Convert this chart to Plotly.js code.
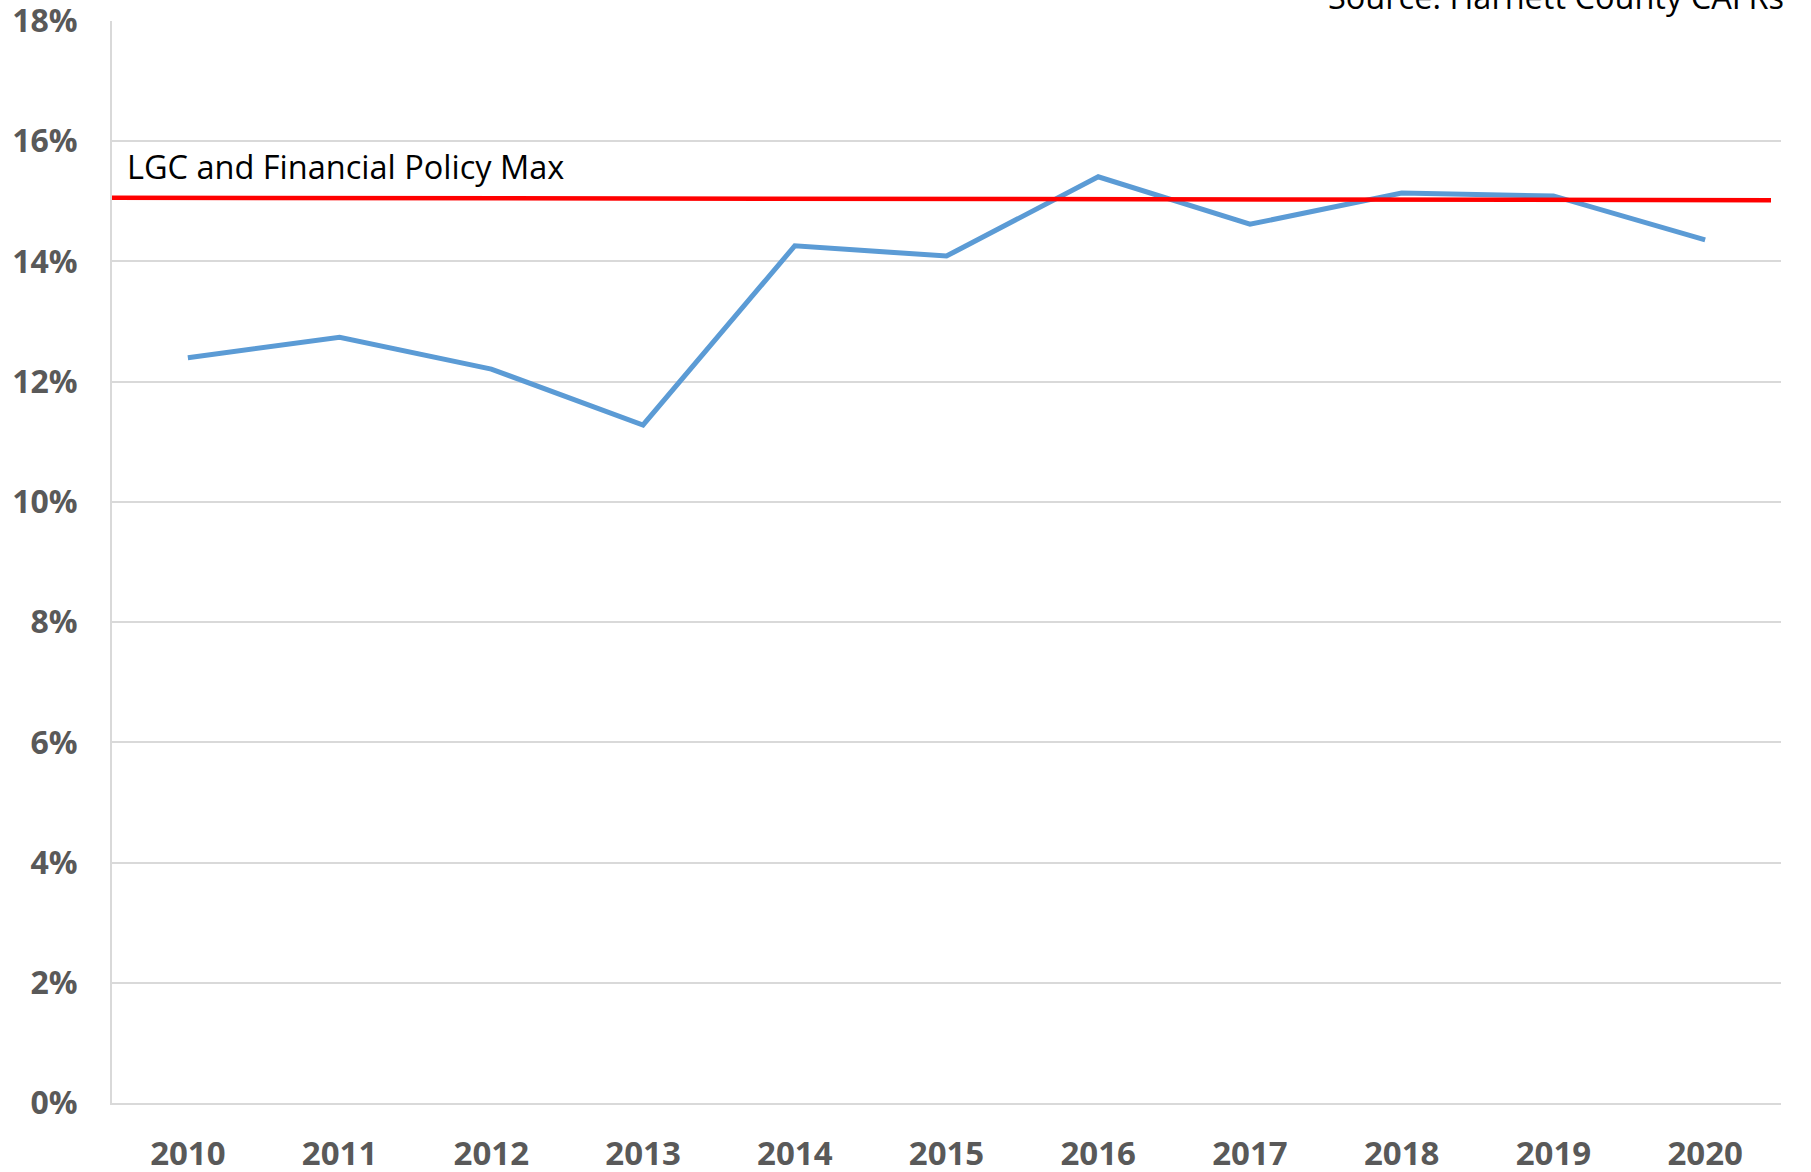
<!DOCTYPE html>
<html>
<head>
<meta charset="utf-8">
<script src="https://cdn.plot.ly/plotly-3.0.1.min.js"></script>
<style>html,body{margin:0;padding:0;background:#fff;}#chart{width:1811px;height:1172px;}</style>
</head>
<body>
<div id="chart"></div>
<script>
// Data
var years = ['2010','2011','2012','2013','2014','2015','2016','2017','2018','2019','2020'];
var debtRatio = [12.40, 12.74, 12.21, 11.28, 14.26, 14.09, 15.41, 14.62, 15.14, 15.09, 14.36];
var policyX = [0, 0.994];
var policyY = [15.06, 15.02];
var policyLabel = 'LGC and Financial Policy Max';
var sourceLabel = 'Source: Harnett County CAFRs';
var yTicks = [0, 2, 4, 6, 8, 10, 12, 14, 16, 18];
var yTickText = ['0%', '2%', '4%', '6%', '8%', '10%', '12%', '14%', '16%', '18%'];

var traces = [
  {
    x: years, y: debtRatio, type: 'scatter', mode: 'lines',
    line: {color: '#5B9BD5', width: 5}, hoverinfo: 'x+y'
  },
  {
    x: policyX, y: policyY, xaxis: 'x2', type: 'scatter', mode: 'lines',
    line: {color: '#FF0000', width: 4.5}, hoverinfo: 'y'
  }
];

var layout = {
  width: 1811, height: 1172,
  margin: {l: 112, r: 30, t: 21, b: 69},
  paper_bgcolor: '#ffffff', plot_bgcolor: '#ffffff',
  showlegend: false,
  font: {family: '"Open Sans", "DejaVu Sans", sans-serif', color: '#595959'},
  xaxis: {
    type: 'category', range: [-0.5, 10.5],
    showgrid: false, zeroline: false,
    showline: true, linecolor: '#d9d9d9', linewidth: 2,
    ticks: '', ticklabelstandoff: 20, ticklabeloverflow: 'allow',
    tickfont: {family: '"Open Sans", sans-serif', size: 33, color: '#595959', weight: 'bold'}
  },
  xaxis2: {
    overlaying: 'x', range: [0, 1], visible: false, fixedrange: true
  },
  yaxis: {
    range: [0, 18.001], tickmode: 'array', tickvals: yTicks, ticktext: yTickText,
    showgrid: true, gridcolor: '#d9d9d9', gridwidth: 2,
    zeroline: false, showline: true, linecolor: '#d9d9d9', linewidth: 2,
    ticks: '', ticklabelstandoff: 26, ticklabeloverflow: 'allow',
    tickfont: {family: '"Open Sans", sans-serif', size: 32, color: '#595959', weight: 'bold'}
  },
  annotations: [
    {
      text: policyLabel, xref: 'paper', yref: 'y', x: 0.008, y: 15.58,
      xanchor: 'left', yanchor: 'middle', showarrow: false,
      font: {family: '"Open Sans", sans-serif', size: 32.5, color: '#000000'}
    },
    {
      text: sourceLabel, xref: 'paper', yref: 'paper', x: 1.003, y: 1.0,
      xanchor: 'right', yanchor: 'bottom', yshift: 0, showarrow: false,
      font: {family: '"Open Sans", sans-serif', size: 32.5, color: '#000000'}
    }
  ]
};

Plotly.newPlot('chart', traces, layout, {displayModeBar: false, staticPlot: true});
</script>
</body>
</html>
